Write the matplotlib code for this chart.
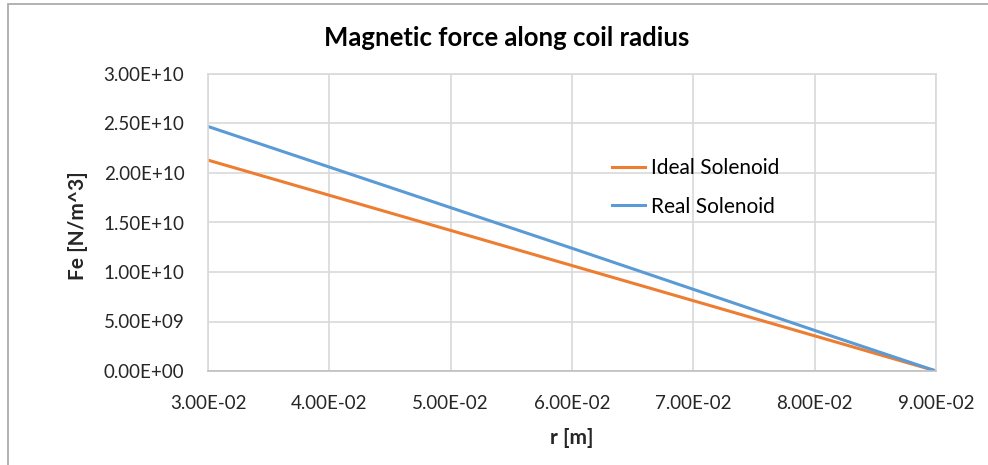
import numpy as np
import matplotlib.pyplot as plt
from matplotlib.patches import Rectangle
from matplotlib.ticker import FuncFormatter

# values
r = [0.03, 0.04, 0.05, 0.06, 0.07, 0.08, 0.09]
fe_ideal = [2.13e10, 1.775e10, 1.42e10, 1.065e10, 0.71e10, 0.355e10, 0.0]
fe_real = [2.47e10, 2.06e10, 1.65e10, 1.24e10, 0.825e10, 0.41e10, 0.0]
x_ticks = [0.03, 0.04, 0.05, 0.06, 0.07, 0.08, 0.09]
y_ticks = [0, 5e9, 1e10, 1.5e10, 2e10, 2.5e10, 3e10]

plt.rcParams['font.family'] = ['Lato', 'DejaVu Sans']

W, H = 988, 465
fig = plt.figure(figsize=(W/100, H/100), dpi=100)
ax = fig.add_axes([208/W, 1 - 371/H, (936 - 208)/W, (371 - 74)/H])

# outer chart border like the spreadsheet frame
fig.patches.append(Rectangle((8/W, -0.1), 1.2, 1 - 4/H + 0.1,
                             transform=fig.transFigure, fill=False,
                             edgecolor='#a6a6a6', linewidth=1.2))

ax.plot(r, fe_ideal, color='#ED7D31', linewidth=2.2, label='Ideal Solenoid')
ax.plot(r, fe_real, color='#5B9BD5', linewidth=2.2, label='Real Solenoid')

ax.set_xlim(0.03, 0.09)
ax.set_ylim(0, 3e10)
ax.set_xticks(x_ticks)
ax.set_yticks(y_ticks)

def sci(v, pos):
    return '{:.2E}'.format(v)

ax.xaxis.set_major_formatter(FuncFormatter(sci))
ax.yaxis.set_major_formatter(FuncFormatter(sci))
ax.tick_params(length=0, labelsize=13.5, colors='#262626')
ax.tick_params(axis='x', pad=17)
ax.tick_params(axis='y', pad=17)

ax.grid(True, color='#d9d9d9', linewidth=1.2)
ax.set_axisbelow(True)
for side in ['top', 'right', 'left']:
    ax.spines[side].set_color('#d9d9d9')
    ax.spines[side].set_linewidth(1.2)
ax.spines['bottom'].set_color('#bfbfbf')
ax.spines['bottom'].set_linewidth(1.2)

# axis titles and chart title placed where the reference has them
fig.text(572/W, 1 - 438/H, 'r [m]', ha='center', va='center',
         fontsize=15, fontweight='bold', color='#262626')
fig.text(78/W, 1 - 226/H, 'Fe [N/m^3]', ha='center', va='center',
         rotation=90, fontsize=15, fontweight='bold', color='#262626')
fig.text(507/W, 1 - 38/H, 'Magnetic force along coil radius',
         ha='center', va='center', fontsize=18.5, fontweight='bold')

ax.legend(loc='upper left', bbox_to_anchor=(612/W, 1 - 158/H),
          bbox_transform=fig.transFigure, borderpad=0, borderaxespad=0,
          frameon=False, fontsize=15, handlelength=1.6, handletextpad=0.25,
          labelspacing=0.9)

fig.savefig('out.png', dpi=100)
